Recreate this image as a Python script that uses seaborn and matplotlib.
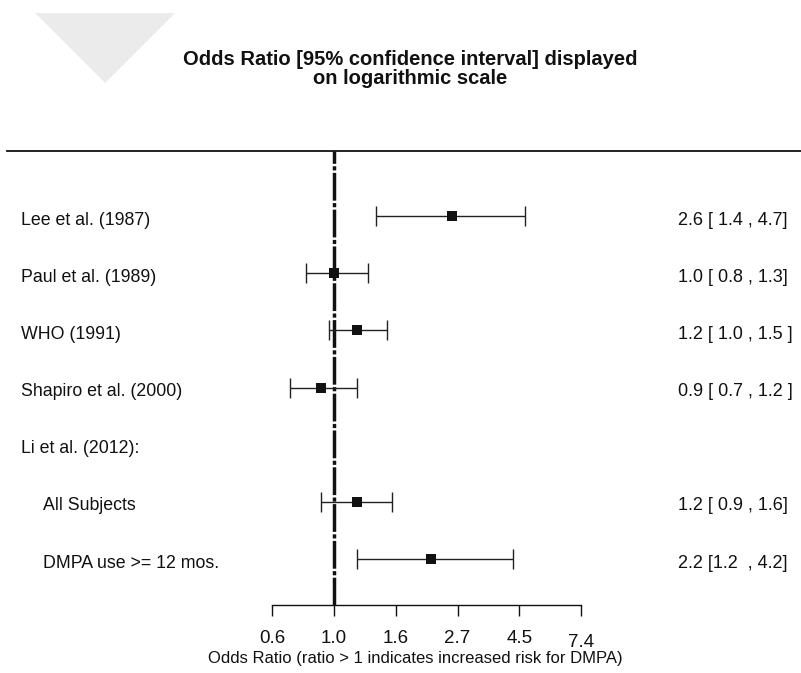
import numpy as np
import pandas as pd
import matplotlib
matplotlib.use("Agg")
import matplotlib.pyplot as plt
import matplotlib.transforms as mtransforms
from matplotlib.patches import Polygon
import seaborn as sns

# === Data ===
studies = ["Lee et al. (1987)", "Paul et al. (1989)", "WHO (1991)",
           "Shapiro et al. (2000)", "Li et al. (2012):",
           "All Subjects", "DMPA use >= 12 mos."]
indent = [False, False, False, False, False, True, True]
odds = [2.6, 1.0, 1.2, 0.9, np.nan, 1.2, 2.2]
ci_low = [1.4, 0.8, 0.96, 0.7, np.nan, 0.9, 1.2]
ci_high = [4.7, 1.32, 1.54, 1.2, np.nan, 1.6, 4.25]
ci_text = ["2.6 [ 1.4 , 4.7]", "1.0 [ 0.8 , 1.3]", "1.2 [ 1.0 , 1.5 ]",
           "0.9 [ 0.7 , 1.2 ]", "", "1.2 [ 0.9 , 1.6]", "2.2 [1.2  , 4.2]"]
tick_vals = np.exp([-0.5, 0.0, 0.5, 1.0, 1.5, 2.0])
tick_labels = ["0.6", "1.0", "1.6", "2.7", "4.5", "7.4"]

df = pd.DataFrame({"study": studies, "row": range(len(studies)),
                   "odds": odds, "lo": ci_low, "hi": ci_high})

sns.set_style("white")
plt.rcParams["font.family"] = ["Liberation Sans", "DejaVu Sans"]

W, H = 801, 673
fig = plt.figure(figsize=(W / 100, H / 100), dpi=100)
# axes in pixel terms: x spans full width, y from 151 (top line) to 605 (axis)
ax = fig.add_axes([0, (H - 605) / H, 1, (605 - 151) / H])

# === Confidence intervals + point estimates ===
d = df.dropna()
ax.errorbar(d["odds"], d["row"], xerr=[d["odds"] - d["lo"], d["hi"] - d["odds"]],
            fmt="none", ecolor="#222222", elinewidth=1.0, capsize=7.5,
            capthick=1.0, zorder=3)
sns.scatterplot(data=d, x="odds", y="row", marker="s", s=55, color="#111111",
                edgecolor="#111111", linewidth=0, zorder=4, ax=ax, legend=False)

# reference line at OR = 1
ax.axvline(1.0, color="#111111", lw=2.5, ls=(0, (8, 0.7, 1.2, 0.7)), zorder=2)

# === Axes / scale ===
ax.set_xscale("log")
px = 123.6  # pixels per ln unit
ax.set_xlim(np.exp(-334 / px), np.exp((W - 334) / px))
ax.set_ylim((605 - 216) / 57.2, (151 - 216) / 57.2)

for s in ["left", "right"]:
    ax.spines[s].set_visible(False)
ax.spines["top"].set_bounds(np.exp((7 - 334) / px), np.exp((W - 334) / px))
ax.spines["top"].set_linewidth(1.3)
ax.spines["top"].set_color("#111111")
ax.spines["bottom"].set_bounds(tick_vals[0], tick_vals[-1])
ax.spines["bottom"].set_linewidth(1.0)
ax.spines["bottom"].set_color("#111111")

ax.set_xticks(tick_vals)
ax.set_xticklabels(tick_labels)
ax.xaxis.set_minor_locator(matplotlib.ticker.NullLocator())
ax.tick_params(axis="x", direction="out", length=8, width=1.0, pad=10,
               labelsize=13.5, colors="#111111", bottom=True)
ax.set_yticks([])
ax.set_ylabel("")
lbls = ax.get_xticklabels()
lbls[-1].set_transform(lbls[-1].get_transform() +
                       mtransforms.ScaledTranslation(0, -4 / 100, fig.dpi_scale_trans))

ax.set_xlabel("Odds Ratio (ratio > 1 indicates increased risk for DMPA)",
              fontsize=12, color="#111111")
ax.xaxis.set_label_coords(415 / W, -(651 - 605) / (605 - 151))

# === Row labels (text sits a few px below the marker line) ===
shift = 4 / 57.2
for r, name in enumerate(studies):
    x0 = 43 if indent[r] else 21
    ax.text(x0 / W, r + shift, name, transform=ax.get_yaxis_transform(),
            ha="left", va="center", fontsize=12.8, color="#111111")
    if ci_text[r]:
        ax.text(678 / W, r + shift, ci_text[r], transform=ax.get_yaxis_transform(),
                ha="left", va="center", fontsize=13, color="#111111")

# === Title ===
fig.text(410 / W, 1 - 69 / H,
         "Odds Ratio [95% confidence interval] displayed\non logarithmic scale",
         ha="center", va="center", fontsize=14.5, fontweight="bold",
         color="#111111", linespacing=0.95)

# light gray triangle in top-left corner
fig.patches.append(Polygon([[35 / W, 1 - 13 / H], [175 / W, 1 - 13 / H],
                            [105 / W, 1 - 83 / H]], closed=True,
                           transform=fig.transFigure, facecolor="#ebebeb",
                           edgecolor="none", zorder=0))

fig.savefig("out.png", dpi=100)
